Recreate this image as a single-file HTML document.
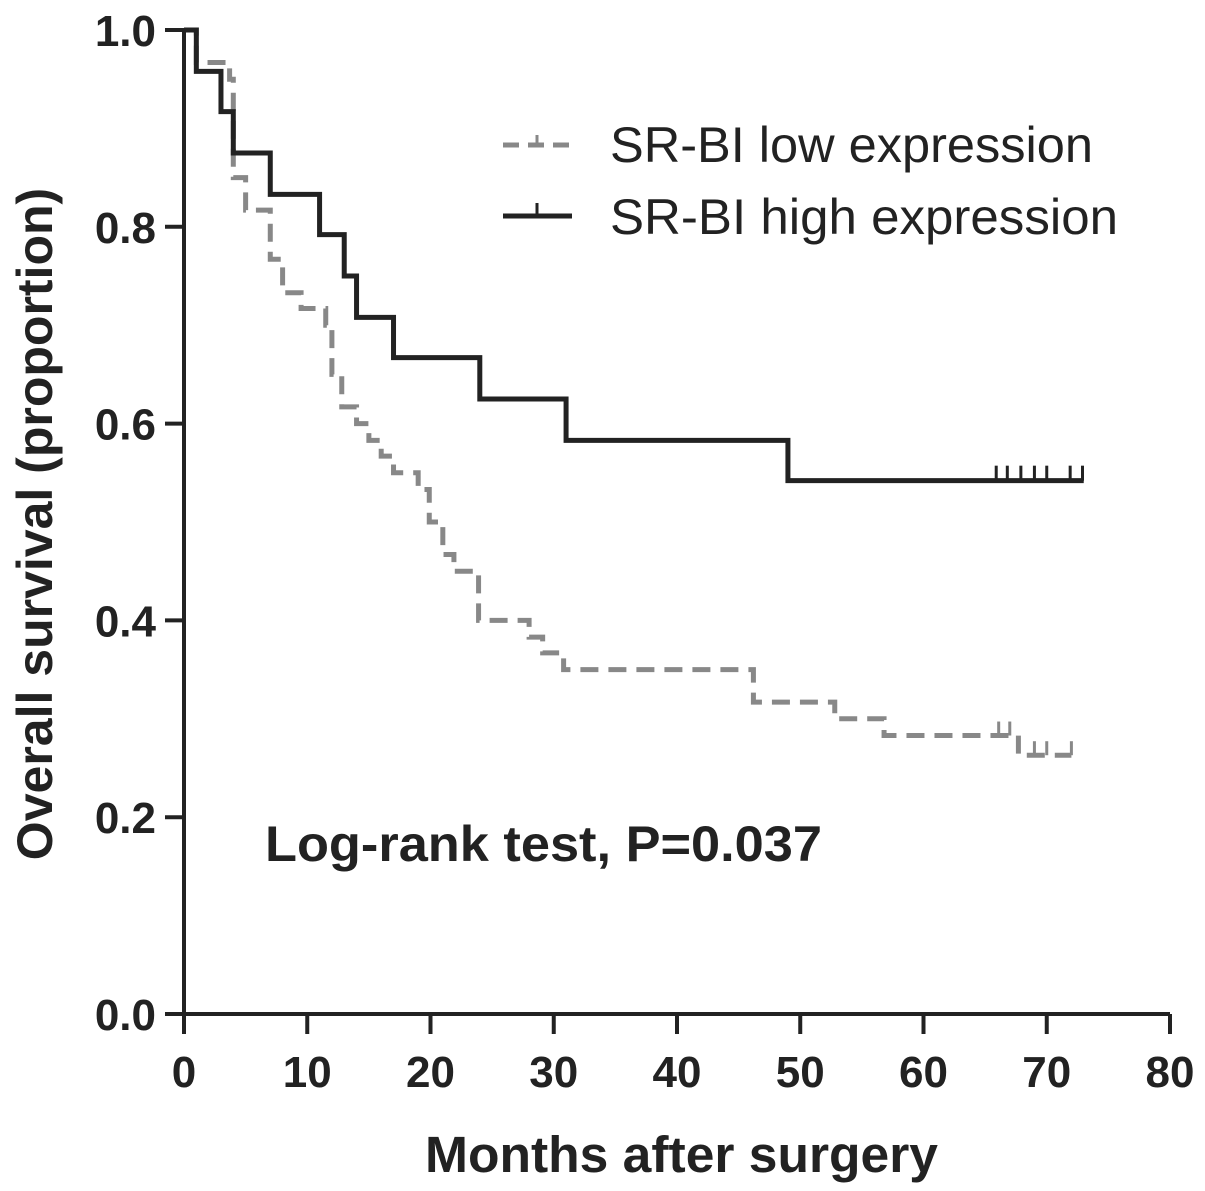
<!DOCTYPE html>
<html><head><meta charset="utf-8"><style>
html,body{margin:0;padding:0;background:#fff;}
svg{display:block;font-family:"Liberation Sans",Arial,sans-serif;}
</style></head><body>
<svg id="chart" width="1205" height="1191" viewBox="0 0 1205 1191">
<g id="axes"></g>
<g id="series"></g>
<g>
  <line x1="503" y1="145" x2="572" y2="145" stroke="#888" stroke-width="5" stroke-dasharray="16,9"/>
  <line x1="537" y1="145" x2="537" y2="135" stroke="#888" stroke-width="3"/>
  <text x="610" y="162" font-size="50" fill="#222" textLength="483" lengthAdjust="spacingAndGlyphs">SR-BI low expression</text>
  <line x1="503" y1="216" x2="572" y2="216" stroke="#222" stroke-width="5"/>
  <line x1="537" y1="216" x2="537" y2="203" stroke="#222" stroke-width="3"/>
  <text x="610" y="234" font-size="50" fill="#222" textLength="508" lengthAdjust="spacingAndGlyphs">SR-BI high expression</text>
</g>
<text x="265" y="861" font-size="50" font-weight="bold" fill="#222" textLength="557" lengthAdjust="spacingAndGlyphs">Log-rank test, P=0.037</text>
<text x="425" y="1172" font-size="51" font-weight="bold" fill="#222" textLength="513" lengthAdjust="spacingAndGlyphs">Months after surgery</text>
<text transform="translate(52,524) rotate(-90)" font-size="50" font-weight="bold" fill="#222" text-anchor="middle">Overall survival (proportion)</text>
</svg>
<script>
const xTicks = [0,10,20,30,40,50,60,70,80];
const yTicks = [0.0,0.2,0.4,0.6,0.8,1.0];
const yTickLabels = ["0.0","0.2","0.4","0.6","0.8","1.0"];
const highTimes = [0,1,3,4,7,11,13,14,17,24,31,49];
const highValues = [1.0,0.958,0.917,0.875,0.833,0.792,0.75,0.708,0.667,0.625,0.583,0.542];
const highEnd = 73;
const highCensorTimes = [65.9,66.8,67.9,69,70,71.9,72.9];
const lowTimes = [0,1,3.7,4,5,7,8,9.5,11.5,12,12.8,14,15,16,17,19,19.9,21,21.9,23.9,28,29.1,30.8,46.2,52.8,56.8,67.7];
const lowValues = [1.0,0.967,0.95,0.85,0.817,0.767,0.733,0.717,0.70,0.65,0.617,0.60,0.583,0.567,0.55,0.533,0.50,0.467,0.45,0.40,0.383,0.367,0.35,0.317,0.30,0.283,0.263];
const lowEnd = 72;
const lowCensorTimes = [66.1,67,69,70,72];

const NS='http://www.w3.org/2000/svg';
const X0=184,X1=1170,Y0=1014,Y1=30;
function sx(t){return X0+(t-0)/(80-0)*(X1-X0);}
function sy(v){return Y0-(v-0)/(1-0)*(Y0-Y1);}
function mk(tag,attrs,parent){const e=document.createElementNS(NS,tag);for(const k in attrs)e.setAttribute(k,attrs[k]);parent.appendChild(e);return e;}
const axes=document.getElementById('axes');
const ser=document.getElementById('series');
let e=mk('line',{x1:X0,y1:Y1,x2:X0,y2:Y0,stroke:'#222','stroke-width':4},axes);


e=mk('line',{x1:X0-2,y1:Y0,x2:X1,y2:Y0,stroke:'#222','stroke-width':4},axes);


xTicks.forEach((t,i)=>{
  const l=mk('line',{x1:sx(t),y1:Y0,x2:sx(t),y2:Y0+20,stroke:'#222','stroke-width':4},axes);
  
  
  const tx=mk('text',{x:sx(t),y:1087,'font-size':44,'font-weight':'bold',fill:'#222','text-anchor':'middle'},axes);
  tx.textContent=String(t);
  
  
});
yTicks.forEach((v,i)=>{
  const l=mk('line',{x1:X0-19,y1:sy(v),x2:X0,y2:sy(v),stroke:'#222','stroke-width':4},axes);
  
  
  const tx=mk('text',{x:156,y:sy(v)+16,'font-size':44,'font-weight':'bold',fill:'#222','text-anchor':'end'},axes);
  tx.textContent=yTickLabels[i];
  
  
});
function stepPath(ts,vs,end){
  let d='M'+sx(ts[0])+','+sy(vs[0]);
  for(let i=1;i<ts.length;i++){d+=' H'+sx(ts[i])+' V'+sy(vs[i]);}
  d+=' H'+sx(end);return d;
}
function valAt(ts,vs,t){let v=vs[0];for(let i=0;i<ts.length;i++){if(ts[i]<=t)v=vs[i];}return v;}
let p=mk('path',{d:stepPath(lowTimes,lowValues,lowEnd),fill:'none',stroke:'#888','stroke-width':5,'stroke-dasharray':'18,10'},ser);


lowCensorTimes.forEach(t=>{
  const v=valAt(lowTimes,lowValues,t);
  const c=mk('line',{x1:sx(t),y1:sy(v),x2:sx(t),y2:sy(v)-14,stroke:'#888','stroke-width':3},ser);
  
  
});
p=mk('path',{d:stepPath(highTimes,highValues,highEnd),fill:'none',stroke:'#222','stroke-width':5},ser);


highCensorTimes.forEach(t=>{
  const v=valAt(highTimes,highValues,t);
  const c=mk('line',{x1:sx(t),y1:sy(v),x2:sx(t),y2:sy(v)-15,stroke:'#222','stroke-width':3},ser);
  
  
});
</script>
</body></html>
